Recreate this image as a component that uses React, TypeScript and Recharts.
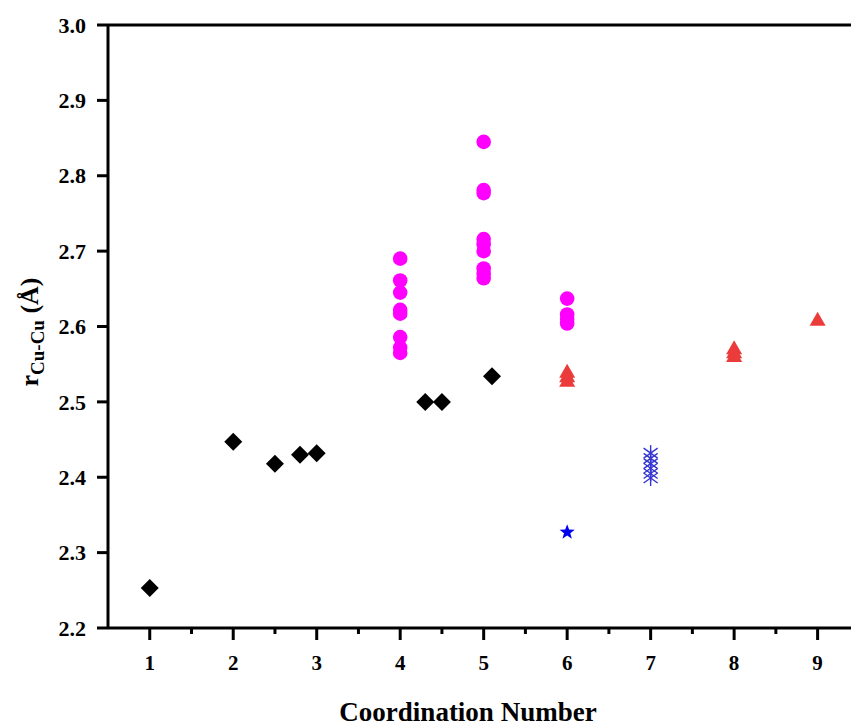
import { ScatterChart, Scatter, XAxis, YAxis, ReferenceLine, Label } from 'recharts';

const FONT = "'Liberation Serif', 'Times New Roman', serif";

// tick values
const xTicks = [1, 1.5, 2, 2.5, 3, 3.5, 4, 4.5, 5, 5.5, 6, 6.5, 7, 7.5, 8, 8.5, 9];
const xLabels = [1, 2, 3, 4, 5, 6, 7, 8, 9];
const yTicks = [2.2, 2.3, 2.4, 2.5, 2.6, 2.7, 2.8, 2.9, 3.0];

// black diamonds
const diamondCN = [1, 2, 2.5, 2.8, 3, 4.3, 4.5, 5.1];
const diamondR = [2.253, 2.447, 2.418, 2.43, 2.432, 2.5, 2.5, 2.534];

// magenta circles
const circleCN = [4, 4, 4, 4, 4, 4, 4, 4, 5, 5, 5, 5, 5, 5, 5, 5, 5, 6, 6, 6, 6];
const circleR = [
    2.69, 2.661, 2.645, 2.622, 2.617, 2.586, 2.572, 2.565,
    2.845, 2.781, 2.777, 2.716, 2.709, 2.7, 2.677, 2.67, 2.664,
    2.637, 2.616, 2.61, 2.604,
];

// red triangles
const triangleCN = [6, 6, 6, 8, 8, 8, 9];
const triangleR = [2.54, 2.534, 2.528, 2.571, 2.566, 2.561, 2.609];

// blue star
const starCN = [6];
const starR = [2.327];

// blue asterisks
const asteriskCN = [7, 7, 7, 7, 7, 7];
const asteriskR = [2.432, 2.425, 2.418, 2.412, 2.405, 2.399];

const toPoints = (xs: number[], ys: number[]) => xs.map((x, i) => ({ x, y: ys[i] }));

const Diamond = ({ cx, cy }: any) => (
    <path d={`M${cx},${cy - 9} L${cx + 9},${cy} L${cx},${cy + 9} L${cx - 9},${cy} Z`} fill="#000" />
);

const Circle = ({ cx, cy }: any) => <circle cx={cx} cy={cy} r={7.3} fill="#ff00ff" />;

const Triangle = ({ cx, cy }: any) => (
    <path d={`M${cx},${cy - 8} L${cx + 8},${cy + 6} L${cx - 8},${cy + 6} Z`} fill="#ec3b3b" />
);

const Star = ({ cx, cy }: any) => {
    const pts: string[] = [];
    for (let i = 0; i < 10; i++) {
        const r = i % 2 === 0 ? 8 : 3.3;
        const a = -Math.PI / 2 + (i * Math.PI) / 5;
        pts.push(`${cx + r * Math.cos(a)},${cy + r * Math.sin(a)}`);
    }
    return <polygon points={pts.join(' ')} fill="#0000ee" />;
};

const Asterisk = ({ cx, cy }: any) => (
    <g stroke="#3535d0" strokeWidth={1.4}>
        <line x1={cx} y1={cy - 8} x2={cx} y2={cy + 8} />
        <line x1={cx - 7} y1={cy - 5} x2={cx + 7} y2={cy + 5} />
        <line x1={cx - 7} y1={cy + 5} x2={cx + 7} y2={cy - 5} />
    </g>
);

const XTick = ({ x, y, payload }: any) => {
    const major = xLabels.includes(payload.value);
    return (
        <g>
            <line x1={x} y1={y} x2={x} y2={y + (major ? 12 : 6)} stroke="#000" strokeWidth={3} />
            {major && (
                <text x={x} y={y + 42} textAnchor="middle" fontFamily={FONT} fontWeight="bold" fontSize={21} fill="#000">
                    {payload.value}
                </text>
            )}
        </g>
    );
};

const YTick = ({ x, y, payload }: any) => (
    <g>
        <line x1={x} y1={y} x2={x - 11} y2={y} stroke="#000" strokeWidth={3} />
        <text x={x - 22} y={y} dy="0.35em" textAnchor="end" fontFamily={FONT} fontWeight="bold" fontSize={22} fill="#000">
            {payload.value.toFixed(1)}
        </text>
    </g>
);

const App = () => {
    return (
        <div style={{ position: 'absolute', left: 0, top: 0, background: '#fff' }}>
            <ScatterChart width={851} height={727} margin={{ top: 25, right: 0, left: 0, bottom: 0 }}>
                <XAxis
                    type="number"
                    dataKey="x"
                    domain={[0.5, 9.4]}
                    ticks={xTicks}
                    interval={0}
                    height={99}
                    tickSize={0}
                    tickMargin={0}
                    tickLine={false}
                    tick={<XTick />}
                    axisLine={{ stroke: '#000', strokeWidth: 3 }}
                >
                    <Label
                        content={() => (
                            <text x={468} y={721} textAnchor="middle" fontFamily={FONT} fontWeight="bold" fontSize={27} fill="#000">
                                Coordination Number
                            </text>
                        )}
                    />
                </XAxis>
                <YAxis
                    type="number"
                    dataKey="y"
                    domain={[2.2, 3.0]}
                    ticks={yTicks}
                    interval={0}
                    width={108}
                    tickSize={0}
                    tickMargin={0}
                    tickLine={false}
                    tick={<YTick />}
                    axisLine={{ stroke: '#000', strokeWidth: 3 }}
                >
                    <Label
                        content={() => (
                            <text
                                transform="translate(38, 332) rotate(-90)"
                                textAnchor="middle"
                                fontFamily={FONT}
                                fontWeight="bold"
                                fontSize={26}
                                fill="#000"
                            >
                                r
                                <tspan fontSize={19} dy={6}>Cu-Cu</tspan>
                                <tspan dy={-6}> (Å)</tspan>
                            </text>
                        )}
                    />
                </YAxis>
                <ReferenceLine y={3.0} stroke="#000" strokeWidth={3} />
                <Scatter data={toPoints(diamondCN, diamondR)} shape={<Diamond />} isAnimationActive={false} />
                <Scatter data={toPoints(circleCN, circleR)} shape={<Circle />} isAnimationActive={false} />
                <Scatter data={toPoints(triangleCN, triangleR)} shape={<Triangle />} isAnimationActive={false} />
                <Scatter data={toPoints(starCN, starR)} shape={<Star />} isAnimationActive={false} />
                <Scatter data={toPoints(asteriskCN, asteriskR)} shape={<Asterisk />} isAnimationActive={false} />
            </ScatterChart>
        </div>
    );
};

export default App;
